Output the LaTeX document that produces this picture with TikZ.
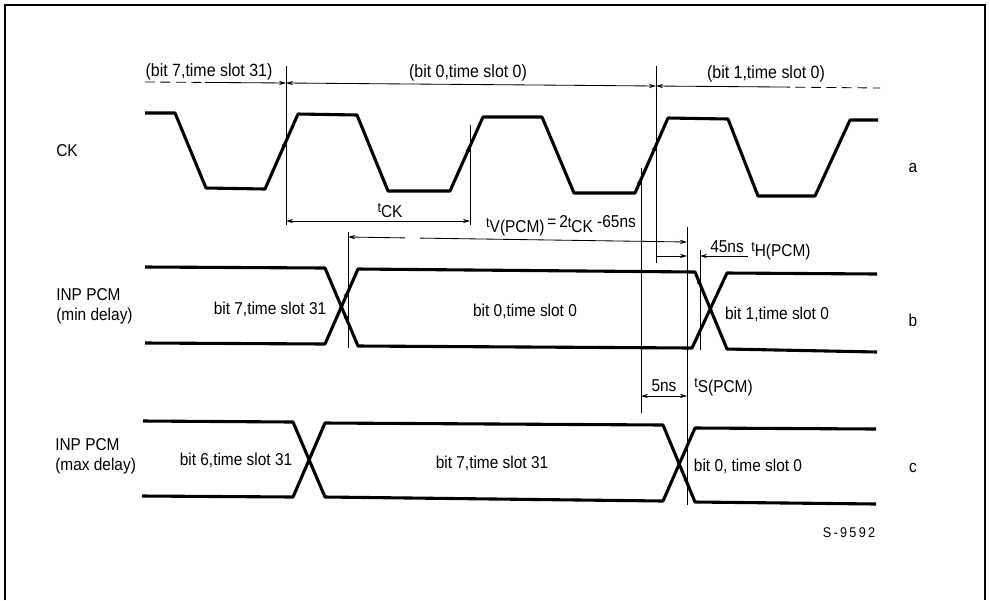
\documentclass[tikz,border=0pt]{standalone}
\usepackage{fontspec}
\setmainfont[FakeStretch=0.9]{Liberation Sans}
\usetikzlibrary{arrows.meta}
\newcommand\tmk[1]{{\fontsize{10}{10}\selectfont t}\raisebox{-0.55ex}{#1}}
\begin{document}
\begin{tikzpicture}[x=0.025cm,y=-0.025cm,
  wave/.style={line width=2.2pt,line join=round},
  dim/.style={line width=0.6pt},
  both/.style={dim,{Stealth[length=5pt,width=3pt]}-{Stealth[length=5pt,width=3pt]}},
  toend/.style={dim,-{Stealth[length=5pt,width=3pt]}},
  edgemark/.style={line width=0.8pt,-{Latex[length=4pt,width=3.6pt]}},
  lbl/.style={inner sep=0pt,font=\fontsize{12.2}{14}\selectfont},
  toplbl/.style={inner sep=0pt,font=\fontsize{12.6}{14}\selectfont},
  frame/.style={line width=0.8pt}]
\useasboundingbox (0,0) rectangle (990,600);
% frame (three sides)
\draw[frame] (5,600) -- (5,5) -- (985,5) -- (985,600);

% ---------- CK waveform ----------
\draw[wave] (145,113) -- (175,113) -- (206,188) -- (265,189) -- (298,114) -- (357,115)
  -- (388,191) -- (450,191) -- (483,117) -- (542,117) -- (574,193) -- (635,193)
  -- (668,118) -- (728,119) -- (758,196) -- (815,196) -- (850,120) -- (878,120);

% ---------- INP PCM min delay ----------
\draw[wave] (145,267) -- (325,268) -- (358,346) -- (692,348) -- (727,273) -- (877,274);
\draw[wave] (145,343) -- (325,344) -- (358,269) -- (695,272) -- (727,349) -- (877,352);

% ---------- INP PCM max delay ----------
\draw[wave] (143,421) -- (293,422) -- (325,497) -- (663,501) -- (695,428) -- (876,429);
\draw[wave] (142,496) -- (293,497) -- (325,423) -- (663,425) -- (695,502) -- (876,504);

% ---------- vertical reference lines ----------
\draw[dim] (286,66) -- (286,225);
\draw[dim] (656,66) -- (656,263);
\draw[dim] (470,125) -- (470,225);
\draw[dim] (641,168) -- (641,413);
\draw[dim] (348,232) -- (348,348);
\draw[dim] (687,227) -- (687,505);
\draw[dim] (700,250) -- (700,350);

% ---------- top time-slot line ----------
\draw[dim,dashed,dash pattern=on 7pt off 4pt] (145,82) -- (205,82.4);
\draw[toend] (205,82.4) -- (286,83);
\draw[toend] (560,85.2) -- (286,83);
\draw[toend] (560,85.2) -- (656,86);
\draw[toend] (780,87) -- (656,86);
\draw[dim,dashed,dash pattern=on 7pt off 4pt] (780,87) -- (880,88);

\node[toplbl] (s31) at (209,72) {(bit 7,time slot 31)};
\node[toplbl] (s0)  at (468,73) {(bit 0,time slot 0)};
\node[toplbl] (s1)  at (766,74) {(bit 1,time slot 0)};

% ---------- tCK ----------
\draw[both] (286,221) -- (470,221);
\node[lbl] (tck) at (390,211) {\tmk{CK}};

% ---------- tV(PCM) ----------
\draw[toend] (405,237.9) -- (348,237);
\draw[toend] (420,238.1) -- (687,242);
\node[lbl] (tv) at (561,226) {\tmk{V(PCM)}\,=\,2\tmk{CK} -65ns};

% ---------- tH(PCM) ----------
\draw[toend] (656,256) -- (687,256);
\draw[toend] (748,256) -- (700,256);
\node[lbl,anchor=south] (h45) at (727,253) {45ns};
\node[lbl,anchor=west] (th) at (751,251) {\tmk{H(PCM)}};

% ---------- tS(PCM) ----------
\draw[both] (641,396) -- (687,396);
\node[lbl,anchor=south] (s5) at (664,392) {5ns};
\node[lbl,anchor=west] (ts) at (694,387) {\tmk{S(PCM)}};

% ---------- edge markers ----------
\draw[edgemark] (280,155) -- (286,141);
\draw[edgemark] (464,160) -- (470,146);
\draw[edgemark] (650,159) -- (656,145);
\draw[edgemark] (636,191) -- (641,179);
\draw[edgemark] (343,310) -- (348,322);
\draw[edgemark] (343,303) -- (348,291);
\draw[edgemark] (696,275) -- (701,287);
\draw[edgemark] (696,342) -- (701,330);
\draw[edgemark] (683,473) -- (688,484);
\draw[edgemark] (683,457) -- (688,446);

% ---------- labels ----------
\node[lbl] (ck) at (67,151) {CK};
\node[lbl,anchor=west,align=left] (inpmin) at (56,306) {INP PCM\\(min delay)};
\node[lbl,anchor=west,align=left] (inpmax) at (55,456) {INP PCM\\(max delay)};

\node[lbl] (b731) at (270,309) {bit 7,time slot 31};
\node[lbl] (b00)  at (525,311) {bit 0,time slot 0};
\node[lbl] (b10)  at (777,314) {bit 1,time slot 0};
\node[lbl] (c631) at (236,460) {bit 6,time slot 31};
\node[lbl] (c731) at (492,463) {bit 7,time slot 31};
\node[lbl] (c00)  at (748,466) {bit 0, time slot 0};

\node[lbl] (la) at (913,168) {a};
\node[lbl] (lb) at (913,320) {b};
\node[lbl] (lc) at (913,468) {c};
\node[lbl,font=\fontsize{10}{11}\selectfont] (ref) at (849,533) {S\,-\,9\,5\,9\,2};
\end{tikzpicture}
\end{document}
